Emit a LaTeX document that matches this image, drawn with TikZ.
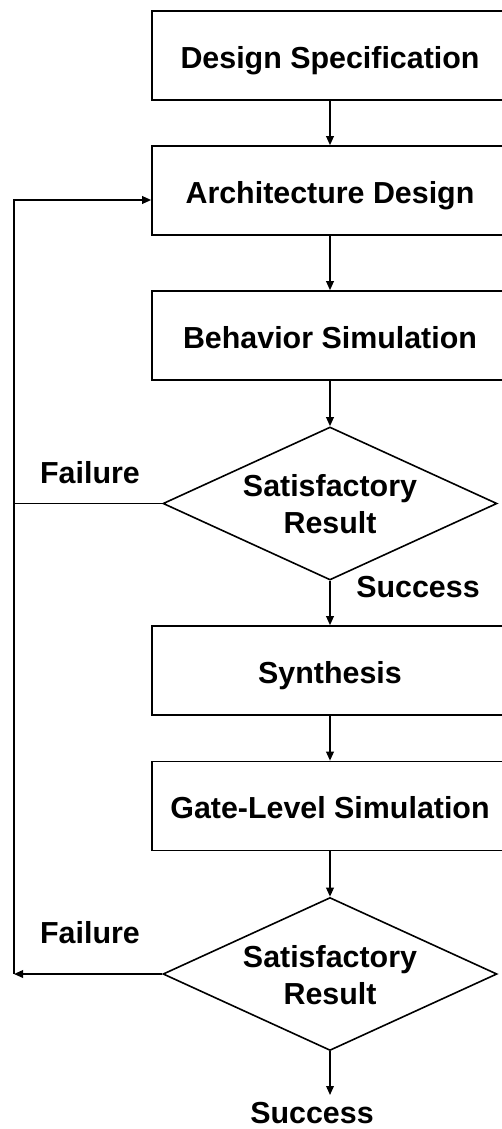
\documentclass[tikz,border=0pt]{standalone}
\usepackage{fontspec}
\setmainfont{Liberation Sans}
\usetikzlibrary{shapes.geometric,arrows.meta}
\begin{document}
\begin{tikzpicture}[x=0.5pt,y=-0.5pt,
  every node/.style={font=\bfseries\fontsize{15.2pt}{18.5pt}\selectfont},
  stepbox/.style={draw,line width=0.8pt,minimum width=178pt,minimum height=44.5pt,inner sep=0pt,text height=12.9pt,text depth=0pt},
  decision/.style={draw,line width=0.8pt,diamond,minimum width=167pt,minimum height=76.5pt,inner sep=0pt},
  dtext/.style={align=center,inner sep=0pt},
  conn/.style={line width=0.8pt},
  arr/.style={conn,-{Triangle[length=4.5pt,width=3.8pt]}},
  lbl/.style={inner sep=0pt}]
\useasboundingbox (0,0) rectangle (502,1129);
\fill[white] (0,0) rectangle (502,1129);
\clip (0,0) rectangle (502,1129);
\node[stepbox] (b1) at (330,55.5) {Design Specification};
\node[stepbox] (b2) at (330,190.5) {Architecture Design};
\node[stepbox] (b3) at (330,335.5) {Behavior Simulation};
\node[decision] (d1) at (330,503.5) {};
\node[dtext] (d1t) at (330,504.5) {Satisfactory\\Result};
\node[stepbox] (b4) at (330,670.5) {Synthesis};
\node[stepbox] (b5) at (330,806) {Gate-Level Simulation};
\node[decision] (d2) at (330,974) {};
\node[dtext] (d2t) at (330,975) {Satisfactory\\Result};
\coordinate (end) at (330,1095);
\node[lbl] (s2) at (312,1113) {Success};
\node[lbl] (s1) at (418,587) {Success};
\node[lbl] (f1) at (90,473) {Failure};
\node[lbl] (f2) at (90,933) {Failure};
\coordinate (ctop) at (14,200);
\coordinate (cmid) at (14,503.5);
\coordinate (cbot) at (14,974);
\draw[arr] (b1) -- (b2);
\draw[arr] (b2) -- (b3);
\draw[arr] (b3) -- (d1.north);
\draw[arr] (d1.south) -- (b4);
\draw[arr] (b4) -- (b5);
\draw[arr] (b5) -- (d2.north);
\draw[arr] (d2.south) -- (end);
\draw[conn] (d1.west) -- (cmid);
\draw[arr] (d2.west) -- (cbot);
\draw[arr] (cbot) -- (ctop) -- (b2.west |- ctop);
\end{tikzpicture}
\end{document}
